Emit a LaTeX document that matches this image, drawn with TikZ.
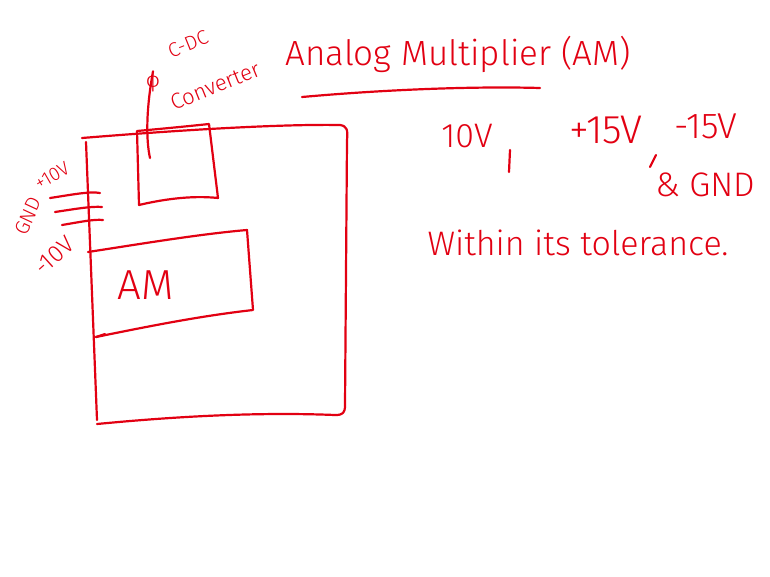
\documentclass[tikz,border=0pt]{standalone}
\usepackage{fontspec}
\setmainfont{Fira Sans Light}
\begin{document}
\begin{tikzpicture}[x=1pt,y=-1pt,
  ink/.style={draw=penred,line width=2.2pt,line cap=round,line join=round},
  lbl/.style={text=penred,inner sep=0pt}]
\definecolor{penred}{RGB}{226,0,18}
\useasboundingbox[fill=white] (0,0) rectangle (770,576);
% outer board
\draw[ink] (82,138) .. controls (180,130) and (280,124) .. (340,125)
  .. controls (347,126) and (348,130) .. (347,140)
  -- (345,405) .. controls (345,413) and (343,415) .. (335,415)
  .. controls (260,412) and (180,416) .. (97,424);
\draw[ink] (86,142) -- (97,420);
% converter box
\draw[ink] (137,131) .. controls (170,128) and (190,126) .. (209,124)
  -- (218,198) .. controls (190,195) and (160,200) .. (139,205) -- cycle;
\coordinate (convtop) at (150,158);
% AM box
\draw[ink] (88,252) .. controls (140,244) and (200,234) .. (247,230)
  -- (253,310) .. controls (200,316) and (150,326) .. (96,337);
\draw[ink] (96,337) -- (105,334);
\node[lbl,font=\fontsize{42}{44}\selectfont] (am) at (146,285) {AM};
% supply wires
\draw[ink] (50,198) .. controls (70,195) and (90,191) .. (100,193);
\draw[ink] (55,212) .. controls (75,209) and (92,206) .. (102,207);
\draw[ink] (62,225) .. controls (80,222) and (94,219) .. (103,220);
\node[lbl,rotate=30,font=\fontsize{19}{20}\selectfont] (p10) at (52,176) {+10V};
\node[lbl,rotate=65,font=\fontsize{20}{21}\selectfont] (gnd) at (28,216) {GND};
\node[lbl,rotate=42,font=\fontsize{24}{25}\selectfont] (m10) at (54,256) {-10V};
% converter label and leader
\node[lbl,rotate=22,font=\fontsize{20}{21}\selectfont] (conv1) at (188,44) {C-DC};
\node[lbl,rotate=22,font=\fontsize{22}{23}\selectfont] (conv2) at (215,86) {Converter};
\node[lbl,font=\fontsize{22}{23}\selectfont] (phi) at (153,82) {ϕ};
\draw[ink] (convtop) .. controls (146,140) and (146,110) .. (phi.north);
% title
\node[lbl,font=\fontsize{35}{37}\selectfont] (title) at (458,54) {Analog Multiplier (AM)};
\draw[ink] (302,97) .. controls (380,90) and (470,86) .. (540,88);
% right notes
\node[lbl,font=\fontsize{34}{36}\selectfont] (v10) at (467,136) {10V};
\draw[ink] (510,150) -- (509,172);
\node[lbl,font=\fontsize{40}{42}\selectfont] (v15) at (606,130) {+15V};
\draw[ink] (656,155) -- (650,167);
\node[lbl,font=\fontsize{36}{38}\selectfont] (vm15) at (706,126) {-15V};
\node[lbl,font=\fontsize{34}{36}\selectfont] (gnd2) at (705,185) {\& GND};
\node[lbl,font=\fontsize{34}{36}\selectfont] (tol) at (578,243) {Within its tolerance.};
\end{tikzpicture}
\end{document}
